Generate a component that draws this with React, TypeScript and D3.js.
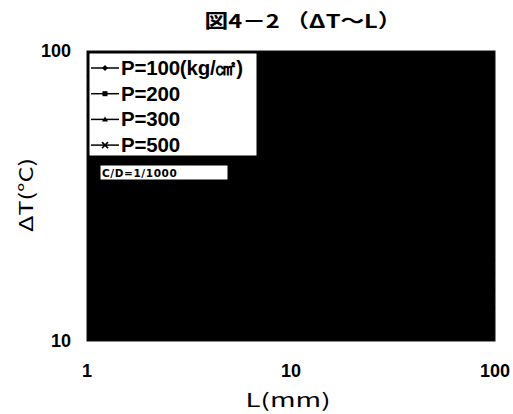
import React from 'react';
import * as d3 from 'd3';

// axis ticks
const xTicks = [1, 10, 100];
const yTicks = [10, 100];

// legend series (drawn black on black plot, so they disappear like in the source)
const seriesNames = ['P=100(kg/㎠)', 'P=200', 'P=300', 'P=500'];
const markerTypes = ['diamond', 'square', 'triangle', 'cross'];
const lengths = [1, 2, 5, 10, 20, 50, 100];
const dtP100 = [60, 48, 36, 28, 22, 16, 13];
const dtP200 = [68, 55, 42, 33, 26, 19, 15];
const dtP300 = [74, 60, 46, 37, 29, 21, 17];
const dtP500 = [82, 67, 52, 42, 33, 24, 19];
const allSeries = [dtP100, dtP200, dtP300, dtP500];

const W = 513;
const H = 414;
const m = { left: 87, top: 51, right: 495, bottom: 341 };

const Marker = ({ type, x, y }: { type: string; x: number; y: number }) => {
  if (type === 'diamond') return <path d={`M${x},${y - 3}L${x + 3},${y}L${x},${y + 3}L${x - 3},${y}Z`} fill="#000" />;
  if (type === 'square') return <rect x={x - 2.5} y={y - 2.5} width={5} height={5} fill="#000" />;
  if (type === 'triangle') return <path d={`M${x},${y - 3}L${x + 3},${y + 2}L${x - 3},${y + 2}Z`} fill="#000" />;
  return <path d={`M${x - 3},${y - 3}L${x + 3},${y + 3}M${x - 3},${y + 3}L${x + 3},${y - 3}`} stroke="#000" strokeWidth={1.5} />;
};

const App = () => {
  const x = d3.scaleLog().domain([1, 100]).range([m.left, m.right]);
  const y = d3.scaleLog().domain([10, 100]).range([m.bottom, m.top]);
  const ln = d3.line<number>().x((d, i) => x(lengths[i])).y(d => y(d));

  const font = '"Liberation Sans", Arial, sans-serif';
  const jp = '"Noto Sans CJK JP", sans-serif';

  return (
    <svg width={W} height={H} style={{ position: 'absolute', left: 0, top: 0, background: '#fff' }}>
      <defs>
        <clipPath id="plot">
          <rect x={m.left} y={m.top} width={m.right - m.left} height={m.bottom - m.top} />
        </clipPath>
      </defs>
      <text x={303} y={28} textAnchor="middle" fontFamily={jp} fontSize={19} fontWeight={700}
        textLength={197} lengthAdjust="spacingAndGlyphs">図4－2 （ΔT～L）</text>

      <rect x={m.left} y={m.top} width={m.right - m.left} height={m.bottom - m.top} fill="#000" stroke="#111" />

      <g clipPath="url(#plot)">
        {allSeries.map((s, i) => (
          <g key={i}>
            <path d={ln(s) || ''} fill="none" stroke="#000" strokeWidth={1.5} />
            {s.map((v, j) => <Marker key={j} type={markerTypes[i]} x={x(lengths[j])} y={y(v)} />)}
          </g>
        ))}
      </g>

      {/* legend */}
      <rect x={89} y={53} width={168} height={103} fill="#fff" stroke="#000" />
      {seriesNames.map((n, i) => {
        const by = 75 + i * 25.7;
        const cy = by - 7;
        return (
          <g key={n}>
            <line x1={91} x2={119} y1={cy} y2={cy} stroke="#000" strokeWidth={1.5} />
            <Marker type={markerTypes[i]} x={105} y={cy} />
            <text x={121} y={by} fontFamily={font} fontSize={20.5} fontWeight={700} letterSpacing={-0.2}>{n}</text>
          </g>
        );
      })}

      <rect x={100} y={165} width={128} height={15} fill="#fff" stroke="#000" />
      <text x={102} y={177} fontFamily='"DejaVu Sans", sans-serif' fontSize={10.5} fontWeight={700} letterSpacing={0.6}>C/D=1/1000</text>

      {xTicks.map(t => (
        <text key={t} x={x(t)} y={377} textAnchor="middle" fontFamily={font} fontSize={18} fontWeight={600}>{t}</text>
      ))}
      {yTicks.map(t => (
        <text key={t} x={71} y={y(t) + 6} textAnchor="end" fontFamily={font} fontSize={18} fontWeight={600}>{t}</text>
      ))}

      <text x={288} y={407} textAnchor="middle" fontFamily={jp} fontSize={19}
        textLength={85} lengthAdjust="spacingAndGlyphs">L(mm)</text>
      <text transform="translate(33,195) rotate(-90)" textAnchor="middle" fontFamily={jp} fontSize={19}
        textLength={74} lengthAdjust="spacingAndGlyphs">ΔT(°C)</text>
    </svg>
  );
};

export default App;
